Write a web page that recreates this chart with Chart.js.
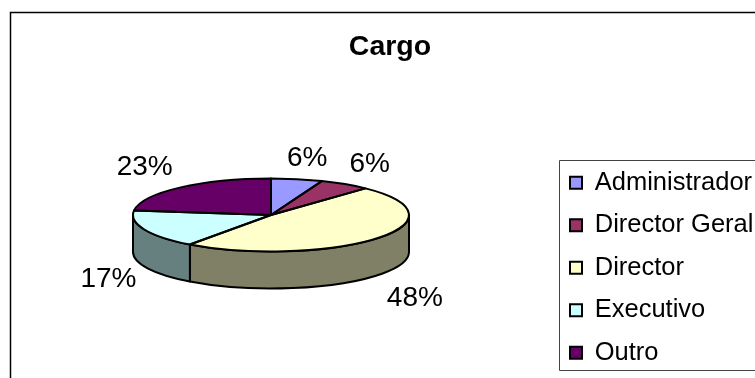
<!doctype html>
<html>

<head>
	<title>Cargo</title>
	<script src="https://cdn.jsdelivr.net/npm/chart.js@4"></script>
	<style>
	html, body {
		margin: 0;
		background: #fff;
	}
	canvas {
		display: block;
	}
	</style>
</head>

<body>
	<canvas id="canvas" width="755" height="378"></canvas>
	<script>
		var categories = ['Administrador', 'Director Geral', 'Director', 'Executivo', 'Outro'];
		var shares = [6, 6, 48, 17, 23];
		var sliceColors = ['#9999ff', '#993366', '#ffffcc', '#ccffff', '#660066'];
		var wallColors = ['#4d4d80', '#4d1a33', '#808066', '#668080', '#330033'];

		// tilted pie: flat radius, squashed radius and wall height
		var pie = {cx: 271, cy: 215, rx: 138, ry: 36.5, depth: 37};
		var legendBox = {left: 559, top: 160, bottom: 370};
		var titleTop = 30;
		// label distance from the rim, plus small per-label corrections
		var labelGap = {x: 50, y: 23, lower: 45};
		var labelNudge = [[1, 2], [-2, 0], [-1, 0], [10, -4], [-2, -3]];

		function ellipseY() {
			return pie.ry / pie.rx;
		}

		var tiltedPie = {
			id: 'tiltedPie',
			afterLayout: function(chart) {
				// fix the plot box, title and legend where they belong, the pie radius follows from it
				var area = chart.chartArea;
				area.left = pie.cx - pie.rx;
				area.right = pie.cx + pie.rx;
				area.top = pie.cy - pie.rx;
				area.bottom = pie.cy + pie.rx;
				area.width = pie.rx * 2;
				area.height = pie.rx * 2;
				chart.titleBlock.top = titleTop;
				chart.legend.left = legendBox.left - chart.options.plugins.legend.labels.padding + 11;
				chart.legend.top = legendBox.top - 7;
				// the rows wrap once they pass this edge, so give them room
				chart.legend.bottom = legendBox.bottom + 40;
			},
			beforeDraw: function(chart) {
				var ctx = chart.ctx;
				ctx.save();
				ctx.fillStyle = '#fff';
				ctx.fillRect(0, 0, chart.width, chart.height);
				// outer frame, only left and top fall inside the canvas
				ctx.strokeStyle = '#000';
				ctx.lineWidth = 1.5;
				ctx.beginPath();
				ctx.moveTo(10.5, chart.height);
				ctx.lineTo(10.5, 12.5);
				ctx.lineTo(chart.width, 12.5);
				ctx.stroke();
				// legend frame runs off the right edge
				ctx.strokeStyle = '#444';
				ctx.lineWidth = 1;
				ctx.beginPath();
				ctx.moveTo(chart.width, legendBox.top + 0.5);
				ctx.lineTo(legendBox.left + 0.5, legendBox.top + 0.5);
				ctx.lineTo(legendBox.left + 0.5, legendBox.bottom + 0.5);
				ctx.lineTo(chart.width, legendBox.bottom + 0.5);
				ctx.stroke();
				ctx.restore();
			},
			beforeDatasetDraw: function(chart) {
				var ctx = chart.ctx;
				var arcs = chart.getDatasetMeta(0).data;
				ctx.save();
				ctx.strokeStyle = '#000';
				ctx.lineWidth = 2;
				ctx.lineJoin = 'round';
				// side wall, only the front half of the rim shows
				arcs.forEach(function(arc, i) {
					var start = Math.max(arc.startAngle, 0);
					var end = Math.min(arc.endAngle, Math.PI);
					if (end <= start) {
						return;
					}
					ctx.beginPath();
					ctx.ellipse(pie.cx, pie.cy, arc.outerRadius, arc.outerRadius * ellipseY(), 0, start, end);
					ctx.ellipse(pie.cx, pie.cy + pie.depth, arc.outerRadius, arc.outerRadius * ellipseY(), 0, end, start, true);
					ctx.closePath();
					ctx.fillStyle = wallColors[i];
					ctx.fill();
					ctx.stroke();
				});
				ctx.restore();
				// squash the library's arcs into the top face
				ctx.save();
				ctx.translate(pie.cx, pie.cy);
				ctx.scale(1, ellipseY());
				ctx.translate(-pie.cx, -pie.cy);
			},
			afterDatasetDraw: function(chart) {
				var ctx = chart.ctx;
				var arcs = chart.getDatasetMeta(0).data;
				ctx.restore();
				ctx.save();
				// outlines go on unsquashed so the pen width stays even
				ctx.strokeStyle = '#000';
				ctx.lineWidth = 2;
				ctx.lineJoin = 'round';
				arcs.forEach(function(arc) {
					ctx.beginPath();
					ctx.moveTo(pie.cx, pie.cy);
					ctx.ellipse(pie.cx, pie.cy, arc.outerRadius, arc.outerRadius * ellipseY(), 0, arc.startAngle, arc.endAngle);
					ctx.closePath();
					ctx.stroke();
				});
				// percent labels around the rim
				ctx.fillStyle = '#000';
				ctx.font = '28px "Liberation Sans"';
				ctx.textAlign = 'center';
				ctx.textBaseline = 'middle';
				arcs.forEach(function(arc, i) {
					var mid = (arc.startAngle + arc.endAngle) / 2;
					var x = pie.cx + Math.cos(mid) * (arc.outerRadius + labelGap.x);
					var y = pie.cy + Math.sin(mid) * (arc.outerRadius * ellipseY() + labelGap.y);
					if (Math.sin(mid) > 0) {
						y += labelGap.lower;
					}
					ctx.fillText(shares[i] + '%', x + labelNudge[i][0], y + labelNudge[i][1]);
				});
				ctx.restore();
			}
		};

		var ctx = document.getElementById('canvas').getContext('2d');
		window.myPie = new Chart(ctx, {
			type: 'pie',
			data: {
				labels: categories,
				datasets: [{
					data: shares,
					backgroundColor: sliceColors,
					borderWidth: 0
				}]
			},
			options: {
				responsive: false,
				animation: false,
				layout: {
					padding: {left: 25}
				},
				plugins: {
					title: {
						display: true,
						text: 'Cargo',
						color: '#000',
						font: {family: '"Liberation Sans"', size: 28.5, weight: 'bold'},
						padding: 0
					},
					legend: {
						position: 'right',
						align: 'start',
						labels: {
							color: '#000',
							font: {family: '"Liberation Sans"', size: 25.5},
							boxWidth: 12,
							boxHeight: 12,
							padding: 17,
							generateLabels: function(chart) {
								return Chart.overrides.pie.plugins.legend.labels.generateLabels(chart).map(function(item) {
									item.strokeStyle = '#000';
									item.lineWidth = 2;
									return item;
								});
							}
						}
					},
					tooltip: {enabled: false}
				}
			},
			plugins: [tiltedPie]
		});
	</script>
</body>
</html>
